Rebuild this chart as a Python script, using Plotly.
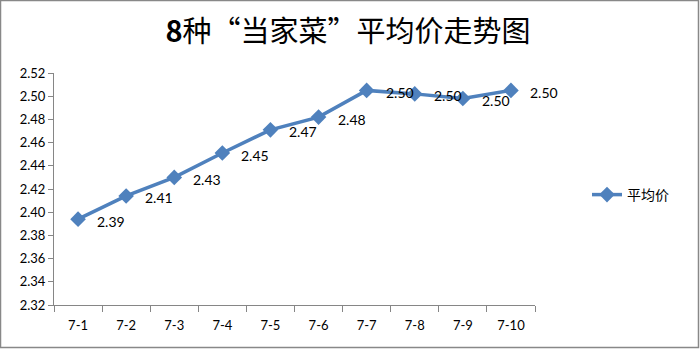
import plotly.graph_objects as go

categories = ["7-1", "7-2", "7-3", "7-4", "7-5", "7-6", "7-7", "7-8", "7-9", "7-10"]
avg_price = [2.394, 2.414, 2.430, 2.451, 2.471, 2.482, 2.505, 2.502, 2.498, 2.505]
series_name = "平均价"
title_text = "<b>8</b>种“当家菜”平均价走势图"

W, H = 700, 349
L, R, T, B = 54, 165, 73, 44
pw, ph = W - L - R, H - T - B

line_color = "#4F81BD"
font_family = "Lato, 'Liberation Sans', sans-serif"

fig = go.Figure()
fig.add_trace(go.Scatter(
    x=categories, y=avg_price, name=series_name, mode="lines+markers",
    line=dict(color=line_color, width=3.5),
    marker=dict(symbol="diamond", size=12, color=line_color),
))

for c, v in zip(categories, avg_price):
    fig.add_annotation(x=c, y=v, text=f"{v:.2f}", showarrow=False,
                       xanchor="left", yanchor="middle", xshift=17, yshift=-2,
                       font=dict(family=font_family, size=14, color="#000000"))

# outer border
fig.add_shape(type="rect", xref="paper", yref="paper",
              x0=(0.5 - L) / pw, x1=(W - 1.5 - L) / pw,
              y0=(H - B - (H - 1.5)) / ph, y1=(H - B - 0.5) / ph,
              line=dict(color="#888888", width=1.5), fillcolor="rgba(0,0,0,0)")

fig.update_layout(
    width=W, height=H,
    margin=dict(l=L, r=R, t=T, b=B),
    paper_bgcolor="white", plot_bgcolor="white",
    title=dict(text=title_text, x=(348 - L) / pw, xref="paper", xanchor="center",
               y=(H - 32) / H, yanchor="middle",
               font=dict(family="'Noto Sans CJK SC', sans-serif", size=29, color="#000000")),
    showlegend=True,
    legend=dict(x=(587 - L) / pw, xanchor="left", y=(H - B - 195) / ph, yanchor="middle",
                font=dict(family="'Noto Sans CJK SC', sans-serif", size=14, color="#000000"),
                bgcolor="rgba(0,0,0,0)"),
    xaxis=dict(type="category", range=[-0.5, 9.5], showgrid=False, zeroline=False,
               showline=True, linecolor="#868686", linewidth=1,
               ticks="outside", tickson="boundaries", ticklen=6, tickcolor="#868686",
               ticklabelstandoff=8,
               tickfont=dict(family=font_family, size=13, color="#000000")),
    yaxis=dict(range=[2.32, 2.52], dtick=0.02, tick0=2.32, tickformat=".2f",
               showgrid=False, zeroline=False,
               showline=True, linecolor="#868686", linewidth=1,
               ticks="outside", ticklen=5, tickcolor="#868686",
               tickfont=dict(family=font_family, size=13, color="#000000")),
)

fig.write_html("out.html")
